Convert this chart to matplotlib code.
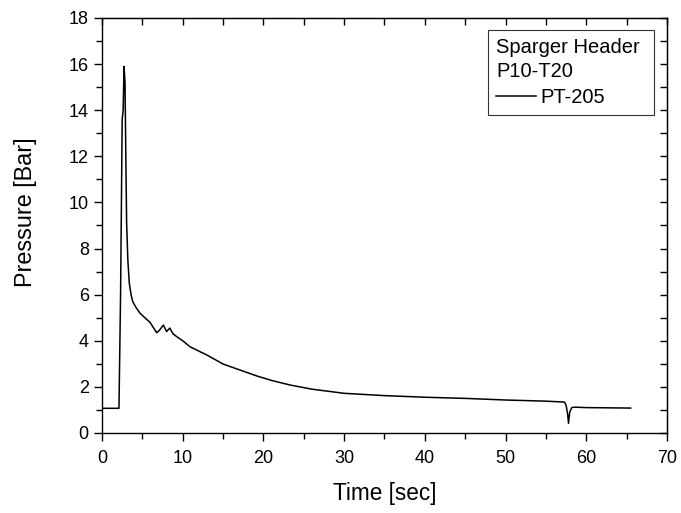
import matplotlib.pyplot as plt
from matplotlib.ticker import MultipleLocator, NullFormatter

plt.rcParams['font.family'] = ['Liberation Sans', 'DejaVu Sans']

# PT-205 pressure trace
time_s = [0.0, 2.1, 2.3, 2.5, 2.62, 2.73, 2.8, 2.85, 2.95, 3.05, 3.2, 3.38, 3.6, 3.8,
          4.2, 4.7, 5.3, 5.95, 6.4, 6.77, 7.1, 7.6, 8.0, 8.4, 8.8, 9.25, 10.0,
          10.9, 12.0, 13.0, 15.0, 17.1, 19.2, 21.0, 23.3, 26.0, 30.0, 35.0,
          40.0, 45.0, 50.0, 55.0, 57.3, 57.5, 57.7, 57.8, 57.95, 58.2, 58.6,
          60.0, 65.5]
pressure_bar = [1.07, 1.07, 6.0, 13.6, 14.0, 15.9, 15.5, 15.2, 12.0, 9.1, 7.5, 6.5, 6.0, 5.7,
                5.45, 5.2, 5.0, 4.8, 4.55, 4.35, 4.45, 4.68, 4.4, 4.55, 4.3, 4.18, 4.0,
                3.74, 3.55, 3.38, 2.99, 2.73, 2.47, 2.28, 2.08, 1.9, 1.72, 1.62,
                1.55, 1.5, 1.43, 1.38, 1.34, 1.2, 0.8, 0.42, 0.9, 1.1, 1.12,
                1.1, 1.08]

fig = plt.figure(figsize=(6.81, 5.13), dpi=100)
ax = fig.add_axes([0.1498, 0.156, 0.8296, 0.809])

ax.plot(time_s, pressure_bar, color='black', linewidth=1.1, label='PT-205')

ax.set_xlim(0, 70)
ax.set_ylim(0, 18)
ax.xaxis.set_major_locator(MultipleLocator(10))
ax.xaxis.set_minor_locator(MultipleLocator(5))
ax.yaxis.set_major_locator(MultipleLocator(2))
ax.yaxis.set_minor_locator(MultipleLocator(1))
ax.tick_params(which='both', direction='out', labelsize=13, width=1)
ax.tick_params(which='major', length=6)
ax.tick_params(which='minor', length=4)
ax.tick_params(axis='x', which='major', pad=6)
for s in ax.spines.values():
    s.set_linewidth(1.0)

# mirrored ticks pointing inward on top and right
top = ax.secondary_xaxis('top')
top.xaxis.set_major_locator(MultipleLocator(5))
top.xaxis.set_major_formatter(NullFormatter())
top.tick_params(direction='in', length=5, width=1)
right = ax.secondary_yaxis('right')
right.yaxis.set_major_locator(MultipleLocator(1))
right.yaxis.set_major_formatter(NullFormatter())
right.tick_params(direction='in', length=5, width=1)

ax.set_xlabel('Time [sec]', fontsize=16.3, labelpad=11)
ax.set_ylabel('Pressure [Bar]', fontsize=16.8)
ax.yaxis.set_label_coords(-0.115, 0.533)

# trailing space leaves the wider right margin seen in the original box
leg = ax.legend(loc='upper right', title='Sparger Header \nP10-T20', fontsize=14.5,
                title_fontsize=14.5, fancybox=False, framealpha=1, edgecolor='#333333',
                handlelength=2.0, handletextpad=0.2, borderaxespad=0,
                bbox_to_anchor=(654 / 681, 1 - 30 / 513), bbox_transform=fig.transFigure,
                borderpad=0.42, labelspacing=0.2)
leg._legend_box.align = 'left'
leg._legend_box.sep = 5
leg.get_title().set_linespacing(1.3)
leg.get_frame().set_linewidth(0.8)

fig.savefig('out.png', dpi=100)
